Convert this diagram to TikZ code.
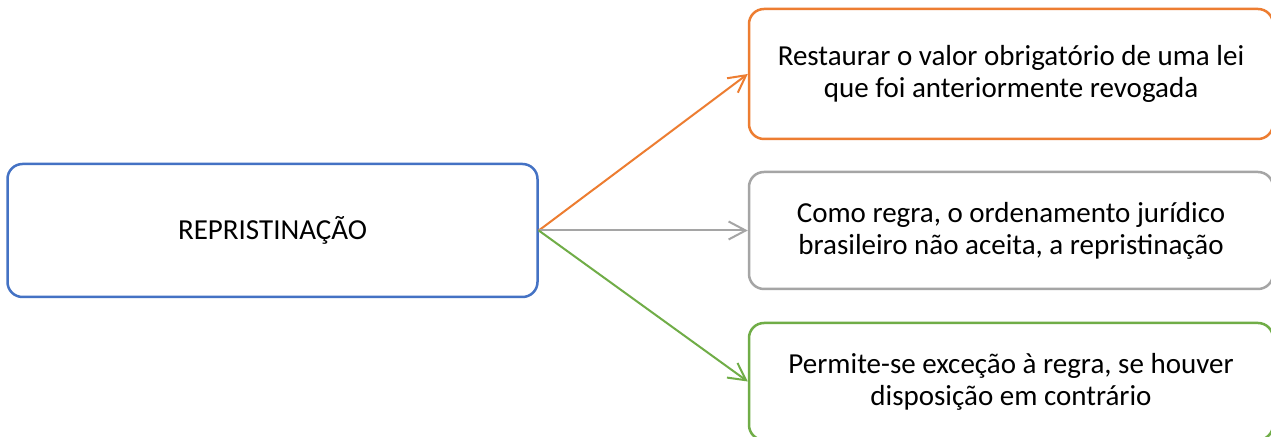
\documentclass[tikz,border=0pt]{standalone}
\usepackage{fontspec}
\setmainfont{Carlito}
\usetikzlibrary{arrows.meta}
\definecolor{azul}{HTML}{4472C4}
\definecolor{laranja}{HTML}{ED7D31}
\definecolor{cinza}{HTML}{A5A5A5}
\definecolor{verde}{HTML}{70AD47}

\begin{document}
\begin{tikzpicture}[
    x=0.5pt, y=-0.5pt,
    caixa/.style={rounded corners=7.5pt, line width=1.25pt, align=center,
      font=\fontsize{14.5}{16}\selectfont, minimum width=262pt, minimum height=58.5pt},
    seta/.style={line width=1pt, -{Straight Barb[length=8.5pt, width=9pt]}},
    ]
    \path[use as bounding box, fill=white] (0,0) rectangle (1271,437);
    \node[caixa, draw=azul, minimum width=265pt, minimum height=66.5pt] (repr) at (272.5,230.5) {REPRISTINAÇÃO};
    \node[caixa, draw=laranja, minimum height=65pt] (restaurar) at (1011,74)
    {Restaurar o valor obrigatório de uma lei\\que foi anteriormente revogada};
    \node[caixa, draw=cinza] (regra) at (1011,230.5)
    {Como regra, o ordenamento jurídico\\brasileiro não aceita, a repristinação};
    \node[caixa, draw=verde] (excecao) at (1011,381.5)
    {Permite-se exceção à regra, se houver\\disposição em contrário};
    \draw[seta, laranja] (repr.east) -- (restaurar.west);
    \draw[seta, cinza] (repr.east) -- (regra.west);
    \draw[seta, verde] (repr.east) -- (excecao.west);
  \end{tikzpicture}
\end{document}
